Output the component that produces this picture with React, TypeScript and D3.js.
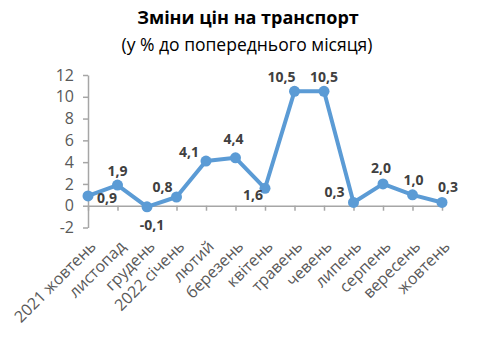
import * as d3 from "d3";
import { useEffect, useRef } from "react";

const MONTHS = [
	"2021 жовтень",
	"листопад",
	"грудень",
	"2022 січень",
	"лютий",
	"березень",
	"квітень",
	"травень",
	"чевень",
	"липень",
	"серпень",
	"вересень",
	"жовтень",
];
const CHANGE = [0.9, 1.9, -0.1, 0.8, 4.1, 4.4, 1.6, 10.5, 10.5, 0.3, 2.0, 1.0, 0.3];
const Y_TICKS = [-2, 0, 2, 4, 6, 8, 10, 12];

// data label nudge (dx, dy) relative to each point
const LABEL_NUDGE: [number, number][] = [
	[19, 7], [0, -9], [5, 23], [-14, -5], [-17, -4], [-2, -14], [-12, 12],
	[-13, -9], [0, -9], [-19, -5], [-2, -11], [1, -10], [6, -10],
];

const FONT = "'Open Sans', 'Noto Sans', sans-serif";

export default function App() {
	const svgRef = useRef<SVGSVGElement>(null);

	useEffect(() => {
		document.body.style.margin = "0";
		if (!svgRef.current) return;
		const width = 480;
		const height = 353;
		const svg = d3.select(svgRef.current);
		svg.selectAll("*").remove();
		svg.attr("width", width).attr("height", height);

		svg.append("rect").attr("width", width).attr("height", height).attr("fill", "#fff");

		// Titles
		svg.append("text")
			.attr("x", 248)
			.attr("y", 24)
			.attr("text-anchor", "middle")
			.attr("font-family", FONT)
			.attr("font-size", "18px")
			.attr("font-weight", "700")
			.attr("fill", "#000")
			.text("Зміни цін на транспорт");
		svg.append("text")
			.attr("x", 247)
			.attr("y", 51)
			.attr("text-anchor", "middle")
			.attr("font-family", FONT)
			.attr("font-size", "17.5px")
			.attr("fill", "#000")
			.text("(у % до попереднього місяця)");

		const x = d3.scalePoint<string>().domain(MONTHS).range([88, 442]);
		const y = d3.scaleLinear().domain([-2, 12]).range([227.5, 75]);
		const axisColor = "#a6a6a6";

		// Y axis
		const yAxis = svg.append("g")
			.attr("transform", "translate(88,0)")
			.call(
				d3.axisLeft(y)
					.tickValues(Y_TICKS)
					.tickFormat((d) => String(d))
					.tickSize(5)
					.tickSizeOuter(0)
					.tickPadding(9),
			);
		yAxis.select(".domain").attr("stroke", axisColor).attr("stroke-width", 1.5);
		yAxis.selectAll(".tick line").attr("stroke", axisColor).attr("stroke-width", 1.5);
		yAxis.selectAll("text")
			.attr("font-family", FONT)
			.attr("font-size", "16px")
			.attr("fill", "#595959");

		// X axis at zero
		const xAxis = svg.append("g")
			.attr("transform", `translate(0,${y(0)})`)
			.call(d3.axisBottom(x).tickSize(5).tickSizeOuter(0).tickFormat(() => ""));
		xAxis.select(".domain").attr("stroke", axisColor).attr("stroke-width", 1.5);
		xAxis.selectAll(".tick line").attr("stroke", axisColor).attr("stroke-width", 1.5);

		// Rotated category labels
		svg.append("g")
			.selectAll("text")
			.data(MONTHS)
			.enter()
			.append("text")
			.attr("transform", (d) => `translate(${x(d)! + 9},${y(-2) + 20}) rotate(-45)`)
			.attr("text-anchor", "end")
			.attr("font-family", FONT)
			.attr("font-size", "16px")
			.attr("fill", "#595959")
			.text((d) => d);

		const color = "#5b9bd5";
		const line = d3
			.line<number>()
			.x((_, i) => x(MONTHS[i])!)
			.y((d) => y(d));

		svg.append("path")
			.datum(CHANGE)
			.attr("d", line)
			.attr("fill", "none")
			.attr("stroke", color)
			.attr("stroke-width", 4)
			.attr("stroke-linejoin", "round");

		svg.append("g")
			.selectAll("circle")
			.data(CHANGE)
			.enter()
			.append("circle")
			.attr("cx", (_, i) => x(MONTHS[i])!)
			.attr("cy", (d) => y(d))
			.attr("r", 5.5)
			.attr("fill", color);

		const fmt = (v: number) => v.toFixed(1).replace(".", ",");
		svg.append("g")
			.selectAll("text")
			.data(CHANGE)
			.enter()
			.append("text")
			.attr("x", (_, i) => x(MONTHS[i])! + LABEL_NUDGE[i][0])
			.attr("y", (d, i) => y(d) + LABEL_NUDGE[i][1])
			.attr("text-anchor", "middle")
			.attr("font-family", FONT)
			.attr("font-size", "14px")
			.attr("font-weight", "700")
			.attr("fill", "#404040")
			.text((d) => fmt(d));
	}, []);

	return <svg ref={svgRef} style={{ display: "block" }} />;
}
